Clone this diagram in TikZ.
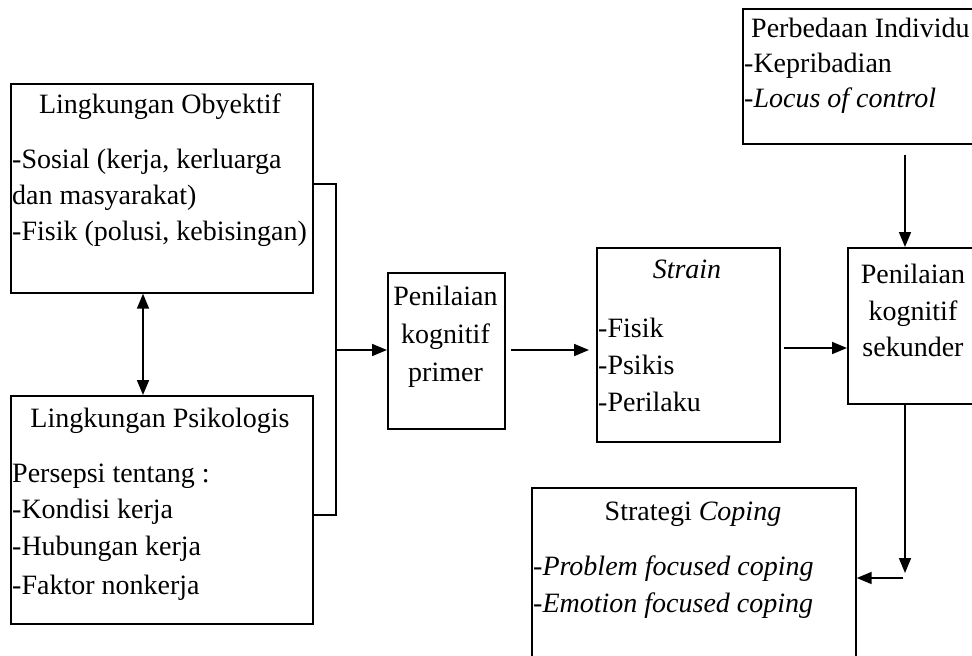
\documentclass[tikz,border=0pt]{standalone}
\usepackage{fontspec}
\setmainfont{Liberation Serif}
\usetikzlibrary{arrows.meta}
\begin{document}
\begin{tikzpicture}[x=1pt,y=-1pt,
  box/.style={draw, line width=1.7pt, inner sep=0pt, anchor=north west},
  tl/.style={anchor=base west, inner sep=0pt, font=\fontsize{28}{36}\selectfont},
  tc/.style={anchor=base, inner sep=0pt, font=\fontsize{28}{36}\selectfont},
  conn/.style={line width=1.7pt},
  arr/.style={line width=1.7pt, -{Triangle[length=15pt,width=12pt]}},
  darr/.style={line width=1.7pt, {Triangle[length=15pt,width=12pt]}-{Triangle[length=15pt,width=12pt]}}]
\useasboundingbox (0,0) rectangle (972,656);
\clip (0,0) rectangle (972,656);
% boxes
\node[box, minimum width=302pt, minimum height=209pt] (obj) at (10,83) {};
\node[box, minimum width=302pt, minimum height=228pt] (psi) at (10,395) {};
\node[box, minimum width=117pt, minimum height=156pt] (primer) at (387,272) {};
\node[box, minimum width=183pt, minimum height=194pt] (strain) at (596,247) {};
\node[box, minimum width=135pt, minimum height=156pt] (sek) at (847,247) {};
\node[box, minimum width=240pt, minimum height=135pt] (ind) at (742,8) {};
\node[box, minimum width=324pt, minimum height=190pt] (cop) at (531,487) {};
% texts: Lingkungan Obyektif
\node[tc] (obj1) at (160,113) {Lingkungan Obyektif};
\node[tl] (obj2) at (12,168) {-Sosial (kerja, kerluarga};
\node[tl] (obj3) at (12,204) {dan masyarakat)};
\node[tl] (obj4) at (12,240) {-Fisik (polusi, kebisingan)};
% Lingkungan Psikologis
\node[tc] (psi1) at (160,427) {Lingkungan Psikologis};
\node[tl] (psi2) at (12,482) {Persepsi tentang :};
\node[tl] (psi3) at (12,518) {-Kondisi kerja};
\node[tl] (psi4) at (12,555) {-Hubungan kerja};
\node[tl] (psi5) at (12,594) {-Faktor nonkerja};
% primer
\node[tc] (pr1) at (445.5,305) {Penilaian};
\node[tc] (pr2) at (445.5,343) {kognitif};
\node[tc] (pr3) at (445.5,381) {primer};
% strain
\node[tc] (st1) at (687,278) {\textit{Strain}};
\node[tl] (st2) at (598,337) {-Fisik};
\node[tl] (st3) at (598,374) {-Psikis};
\node[tl] (st4) at (598,411) {-Perilaku};
% sekunder
\node[tc] (sk1) at (913,283) {Penilaian};
\node[tc] (sk2) at (913,320) {kognitif};
\node[tc] (sk3) at (913,356) {sekunder};
% individu
\node[tl] (in1) at (751,37) {Perbedaan Individu};
\node[tl] (in2) at (744,72) {-Kepribadian};
\node[tl] (in3) at (744,107) {-\textit{Locus of control}};
% coping
\node[tc] (cp1) at (693,520) {Strategi \textit{Coping}};
\node[tl] (cp2) at (533,575) {\textit{-Problem focused coping}};
\node[tl] (cp3) at (533,612) {\textit{-Emotion focused coping}};
% connectors
\coordinate (j1) at (336,184);
\coordinate (j2) at (336,515);
\coordinate (j) at (336,350);
\coordinate (dx) at (143,0);
\coordinate (a3) at (780,348);
\coordinate (cx) at (905,0);
\coordinate (k1) at (905,573);
\coordinate (k2) at (903,578);
\draw[darr] (obj.south -| dx) -- (psi.north -| dx);
\draw[conn] (obj.east |- j1) -- (j1) -- (j2) -- (psi.east |- j2);
\draw[arr] (j) -- (primer.west |- j);
\draw[arr, shorten <=5pt, shorten >=7pt] (primer.east |- j) -- (strain.west |- j);
\draw[arr, shorten <=3pt] (strain.east |- a3) -- (sek.west |- a3);
\draw[arr, shorten <=10pt] (ind.south -| cx) -- (sek.north -| cx);
\draw[arr] (sek.south -| k1) -- (k1);
\draw[arr] (k2) -- (cop.east |- k2);
\end{tikzpicture}
\end{document}
